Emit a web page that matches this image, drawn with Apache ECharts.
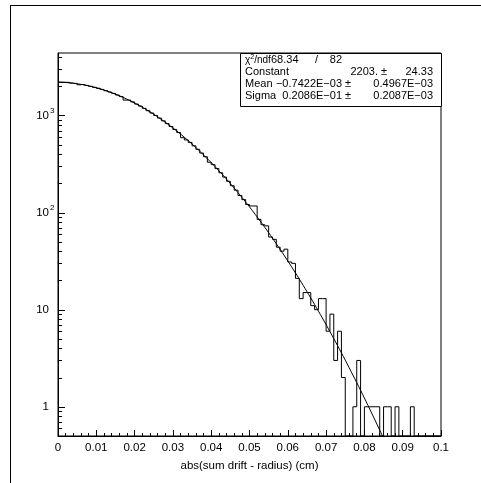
<!DOCTYPE html>
<html>
<head>
<meta charset="utf-8">
<script src="https://cdn.jsdelivr.net/npm/echarts@6/dist/echarts.min.js"></script>
<style>
  html, body { margin: 0; padding: 0; background: #fff; }
  #chart { width: 481px; height: 483px; }
</style>
</head>
<body>
<div id="chart"></div>
<script>
// Histogram range and binning: 100 bins of 0.001 cm
const xRange = [0, 0.1];
const binWidth = 0.001;

// Entries per bin
const counts = [
  2205, 2200, 2195, 2160, 2140, 2070, 2085, 2040, 1995, 1950,
  1905, 1855, 1800, 1745, 1690, 1625, 1565, 1440, 1440, 1380,
  1310, 1250, 1185, 1120, 1060, 1000, 940, 880, 825, 770,
  718, 668, 590, 560, 528, 487, 448, 410, 376, 330,
  312, 284, 257, 232, 210, 189, 170, 150, 136, 121,
  117, 117, 85, 75, 73, 56, 53, 44, 40, 42,
  31, 30, 21, 13, 15, 15, 11, 10, 13, 13,
  6, 9, 3, 6, 2, 0, 0, 1, 3, 0,
  1, 1, 1, 1, 0, 1, 1, 0, 1, 0,
  0, 0, 1, 0, 0, 0, 0, 0, 0, 0
];

// Vertical (log) axis range and decade labels
const yRange = [0.5, 4400];
const yDecades = [1, 10, 100, 1000];
const yDecadeMantissa = ['1', '10', '10', '10'];
const yDecadeExponent = ['', '', '2', '3'];

// Gaussian fit results: [value, error]
const fitConstant = [2203., 24.33];
const fitMean = [-0.7422E-03, 0.4967E-03];
const fitSigma = [0.2086E-01, 0.2087E-03];
const fitChi2 = 68.34;
const fitNdf = 82;

const xTitle = 'abs(sum drift - radius) (cm)';

// Fitted function sampled along x
function gaus(x) {
  const z = (x - fitMean[0]) / fitSigma[0];
  return fitConstant[0] * Math.exp(-0.5 * z * z);
}
const fitCurve = [];
for (let k = 0; k <= 400; k++) {
  const x = xRange[0] + (xRange[1] - xRange[0]) * k / 400;
  fitCurve.push([x, gaus(x)]);
}

const FONT = '"Liberation Sans", Arial, Helvetica, sans-serif';
const FS = 11.5;
const chart = echarts.init(document.getElementById('chart'), null, { renderer: 'canvas' });

function histogramPath(params, api) {
  const lo = yRange[0];
  const pts = [api.coord([xRange[0], lo])];
  counts.forEach((c, i) => {
    const v = Math.max(c, lo);
    const x0 = xRange[0] + i * binWidth;
    pts.push(api.coord([x0, v]), api.coord([x0 + binWidth, v]));
  });
  pts.push(api.coord([xRange[1], lo]));
  return {
    type: 'polyline',
    shape: { points: pts },
    style: { stroke: '#000', fill: null, lineWidth: 1 }
  };
}

function logAxisDecoration(params, api) {
  const children = [];
  for (let d = -1; d <= 4; d++) {
    for (let m = 1; m <= 9; m++) {
      const v = m * Math.pow(10, d);
      if (v < yRange[0] || v > yRange[1]) continue;
      const p = api.coord([xRange[0], v]);
      const len = m === 1 ? 7 : 4;
      children.push({
        type: 'line',
        shape: { x1: p[0], y1: Math.round(p[1]) + 0.5, x2: p[0] + len, y2: Math.round(p[1]) + 0.5 },
        style: { stroke: '#000', lineWidth: 1 }
      });
    }
  }
  yDecades.forEach((v, i) => {
    const p = api.coord([xRange[0], v]);
    children.push({
      type: 'text',
      style: {
        text: yDecadeMantissa[i], x: p[0] - 9, y: p[1],
        align: 'right', verticalAlign: 'middle',
        font: FS + 'px ' + FONT, fill: '#000'
      }
    });
    if (yDecadeExponent[i]) {
      children.push({
        type: 'text',
        style: {
          text: yDecadeExponent[i], x: p[0] - 8, y: p[1] - 5,
          align: 'left', verticalAlign: 'middle',
          font: '8px ' + FONT, fill: '#000'
        }
      });
    }
  });
  return { type: 'group', children };
}

// Fit statistics box
const boxL = 240, boxR = 441, boxT = 53, boxB = 106;
const rowY = [60, 72, 84, 96];
function txt(s, x, y, align) {
  return {
    type: 'text', z: 20,
    style: { text: s, x, y, align: align || 'left', verticalAlign: 'middle', font: '11px ' + FONT, fill: '#000' }
  };
}
function fmtE(v) {
  const e = v.toExponential(3).split('e');
  let exp = parseInt(e[1], 10) + 1;
  const mant = (parseFloat(e[0]) / 10).toFixed(4);
  const sgn = exp < 0 ? '\u2212' : '+';
  const ee = String(Math.abs(exp)).padStart(2, '0');
  return mant.replace('-', '\u2212') + 'E' + sgn + ee;
}

const option = {
  animation: false,
  backgroundColor: '#fff',
  grid: {
    left: 58, right: 40, top: 53, bottom: 47,
    show: true, borderColor: '#000', borderWidth: 1, backgroundColor: 'transparent'
  },
  xAxis: {
    type: 'value', min: xRange[0], max: xRange[1], interval: 0.01,
    name: xTitle, nameLocation: 'middle', nameGap: 24,
    nameTextStyle: { fontFamily: FONT, fontSize: FS, color: '#000' },
    axisLine: { show: true, lineStyle: { color: '#000', width: 1 } },
    axisTick: { show: true, inside: true, length: 6, lineStyle: { color: '#000' } },
    minorTick: { show: true, splitNumber: 5, length: 3, lineStyle: { color: '#000' } },
    axisLabel: {
      margin: 6, fontFamily: FONT, fontSize: FS, color: '#000',
      formatter: v => String(+v.toFixed(3))
    },
    splitLine: { show: false }
  },
  yAxis: {
    type: 'log', logBase: 10, min: yRange[0], max: yRange[1],
    axisLine: { show: true, lineStyle: { color: '#000', width: 1 } },
    axisTick: { show: false },
    axisLabel: { show: false },
    splitLine: { show: false }
  },
  series: [
    {
      type: 'custom', name: 'histogram', renderItem: histogramPath,
      data: [[0.05, 100]], clip: true, silent: true, z: 3
    },
    {
      type: 'line', name: 'fit', data: fitCurve, showSymbol: false, clip: true,
      lineStyle: { color: '#000', width: 1 }, silent: true, z: 4
    },
    {
      type: 'custom', name: 'logTicks', renderItem: logAxisDecoration,
      data: [[0.05, 100]], clip: false, silent: true, z: 5
    }
  ],
  graphic: [
    { type: 'line', shape: { x1: 10, y1: 5.5, x2: 481, y2: 5.5 }, style: { stroke: '#000', lineWidth: 1 } },
    { type: 'line', shape: { x1: 10.5, y1: 5, x2: 10.5, y2: 483 }, style: { stroke: '#000', lineWidth: 1 } },
    { type: 'rect', z: 19, shape: { x: boxL + 0.5, y: boxT + 0.5, width: boxR - boxL, height: boxB - boxT },
      style: { fill: '#fff', stroke: '#000', lineWidth: 1 } },
    { type: 'text', z: 20, style: {
        text: '{c|\u03c7}{s|2}{c|/ndf}', x: 245, y: rowY[0], verticalAlign: 'middle',
        rich: { c: { font: '10px ' + FONT, fill: '#000' }, s: { font: '7px ' + FONT, fill: '#000', verticalAlign: 'top', padding: [0, 0, 6, 0] } }
      } },
    txt(fitChi2.toFixed(2), 271, rowY[0]),
    txt('/', 315, rowY[0]),
    txt(String(fitNdf), 342, rowY[0], 'right'),
    txt('Constant', 245, rowY[1]),
    txt(fitConstant[0].toFixed(0) + '.', 378, rowY[1], 'right'),
    txt('\u00b1', 381, rowY[1]),
    txt(fitConstant[1].toFixed(2), 433, rowY[1], 'right'),
    txt('Mean', 245, rowY[2]),
    txt(fmtE(fitMean[0]), 342, rowY[2], 'right'),
    txt('\u00b1', 345, rowY[2]),
    txt(fmtE(fitMean[1]), 433, rowY[2], 'right'),
    txt('Sigma', 245, rowY[3]),
    txt(fmtE(fitSigma[0]), 342, rowY[3], 'right'),
    txt('\u00b1', 345, rowY[3]),
    txt(fmtE(fitSigma[1]), 433, rowY[3], 'right')
  ]
};
chart.setOption(option);
</script>
</body>
</html>
